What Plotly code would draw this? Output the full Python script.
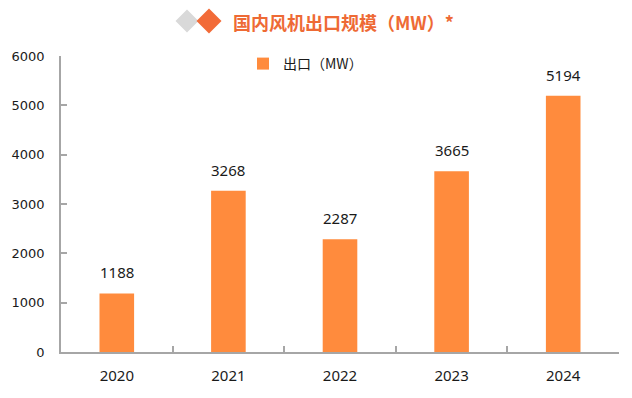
import plotly.graph_objects as go

years = ["2020", "2021", "2022", "2023", "2024"]
exports_mw = [1188, 3268, 2287, 3665, 5194]
y_ticks = [0, 1000, 2000, 3000, 4000, 5000, 6000]

W, H = 632, 398
PAGE_OFF = 8  # default body margin of the page
L, R, T, B = 61, 619, 56, 352  # plot area on screen
PW, PH = R - L, B - T
ML, MR, MT, MB = L - PAGE_OFF, W + PAGE_OFF - R, T - PAGE_OFF, H + PAGE_OFF - B


def px(x):
    return (x - L) / PW


def py(y):
    return (B - y) / PH


bar_color = "#FF8B3D"
axis_color = "#A6A6A6"
text_color = "#1A1A1A"

fig = go.Figure()
fig.add_trace(go.Bar(
    x=years, y=exports_mw, name="出口（MW）",
    marker=dict(color=bar_color, line=dict(width=0)),
    showlegend=True,
))

for i, v in enumerate(exports_mw):
    fig.add_annotation(x=i, y=v, text=str(v), showarrow=False,
                       xref="x", yref="y", yanchor="bottom", yshift=9,
                       font=dict(family="Noto Sans", size=15, color=text_color))

# title text
fig.add_annotation(x=px(232), y=py(21.5), xref="paper", yref="paper",
                   xanchor="left", yanchor="middle", showarrow=False,
                   text="<b>国内风机出口规模（MW）*</b>", borderpad=0,
                   font=dict(family="Noto Sans CJK SC", size=18, color="#EE6A35"))


def diamond(cx, cy, r, color):
    return dict(type="path", xref="paper", yref="paper",
                path=f"M {px(cx - r)} {py(cy)} L {px(cx)} {py(cy - r)} L {px(cx + r)} {py(cy)} L {px(cx)} {py(cy + r)} Z",
                fillcolor=color, line=dict(width=0), layer="above")


fig.update_layout(shapes=[diamond(187, 21, 11.5, "#D9D9D9"), diamond(209, 21, 12.5, "#F26B38")])

fig.update_layout(
    width=W, height=H,
    margin=dict(l=ML, r=MR, t=MT, b=MB, autoexpand=False),
    paper_bgcolor="white", plot_bgcolor="white",
    bargap=0.69,
    showlegend=True,
    legend=dict(x=px(243), y=py(64), xanchor="left", yanchor="middle",
                bgcolor="rgba(0,0,0,0)", borderwidth=0,
                font=dict(family="Noto Sans CJK SC", size=14, color=text_color),
                itemwidth=30),
    xaxis=dict(
        type="category", categoryorder="array", categoryarray=years,
        range=[-0.5, len(years) - 0.5], autorange=False,
        showgrid=False, showline=True, linecolor=axis_color, linewidth=1.5,
        ticks="inside", ticklen=6, tickcolor=axis_color, tickwidth=1.5, tickson="boundaries",
        tickfont=dict(family="Noto Sans", size=15, color=text_color),
        ticklabelstandoff=9, zeroline=False, tickangle=0,
    ),
    yaxis=dict(
        range=[0, 6000], tickvals=y_ticks, ticktext=[str(t) for t in y_ticks],
        showgrid=False, showline=True, linecolor=axis_color, linewidth=1.5,
        ticks="inside", ticklen=6, tickcolor=axis_color, tickwidth=1.5,
        tickfont=dict(family="DejaVu Sans", size=13, color=text_color),
        ticklabelstandoff=12, zeroline=False,
    ),
)

fig.write_html("out.html")
